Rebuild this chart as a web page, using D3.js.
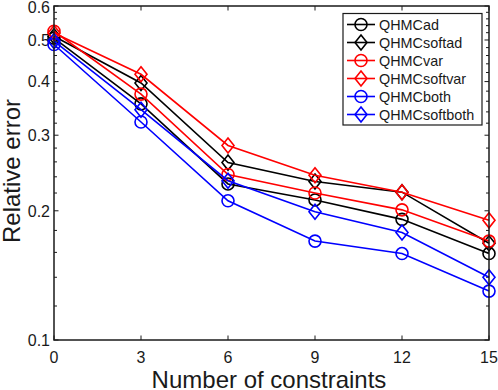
<!DOCTYPE html>
<html>
<head>
<meta charset="utf-8">
<script src="https://cdn.jsdelivr.net/npm/d3@7"></script>
<style>
  html, body { margin: 0; padding: 0; background: #fff; }
  svg { display: block; font-family: "Liberation Sans", Arial, Helvetica, sans-serif; }
</style>
</head>
<body>
<svg id="chart" width="498" height="390"></svg>
<script>
const xValues = [0, 3, 6, 9, 12, 15];
const xTicks = [0, 3, 6, 9, 12, 15];
const yTicks = [0.1, 0.2, 0.3, 0.4, 0.5, 0.6];
const yTickLabels = ["0.1", "0.2", "0.3", "0.4", "0.5", "0.6"];
const yMinorTicks = [0.12, 0.14, 0.16, 0.18, 0.22, 0.24, 0.26, 0.28, 0.32, 0.34, 0.36, 0.38,
                     0.42, 0.44, 0.46, 0.48, 0.52, 0.54, 0.56, 0.58];

const seriesNames = ["QHMCad", "QHMCsoftad", "QHMCvar", "QHMCsoftvar", "QHMCboth", "QHMCsoftboth"];
const seriesColors = ["#000000", "#000000", "#ff0000", "#ff0000", "#0000ff", "#0000ff"];
const seriesMarkers = ["circle", "diamond", "circle", "diamond", "circle", "diamond"];

const QHMCad       = [0.505, 0.355, 0.231, 0.212, 0.191, 0.159];
const QHMCsoftad   = [0.510, 0.397, 0.259, 0.234, 0.221, 0.168];
const QHMCvar      = [0.524, 0.374, 0.243, 0.220, 0.201, 0.170];
const QHMCsoftvar  = [0.519, 0.416, 0.284, 0.242, 0.221, 0.190];
const QHMCboth     = [0.488, 0.322, 0.211, 0.170, 0.159, 0.130];
const QHMCsoftboth = [0.497, 0.344, 0.235, 0.199, 0.178, 0.140];
const seriesValues = [QHMCad, QHMCsoftad, QHMCvar, QHMCsoftvar, QHMCboth, QHMCsoftboth];

const svg = d3.select("#chart");
const L = 54, R = 489, T = 6, B = 340;
const axisColor = "#1a1a1a";

const x = d3.scaleLinear().domain([0, 15]).range([L, R]);
const y = d3.scaleLog().domain([0.1, 0.6]).range([B, T]);

const tickLen = 4.5;
const g = svg.append("g");

function drawYTicks(vals, len) {
  vals.forEach(v => {
    g.append("line").attr("x1", L).attr("x2", L + len).attr("y1", y(v)).attr("y2", y(v))
      .attr("stroke", axisColor).attr("stroke-width", 1);
    g.append("line").attr("x1", R).attr("x2", R - len).attr("y1", y(v)).attr("y2", y(v))
      .attr("stroke", axisColor).attr("stroke-width", 1);
  });
}
drawYTicks(yTicks, tickLen);
drawYTicks(yMinorTicks, 3);
xTicks.forEach(v => {
  g.append("line").attr("x1", x(v)).attr("x2", x(v)).attr("y1", B).attr("y2", B - tickLen)
    .attr("stroke", axisColor).attr("stroke-width", 1);
  g.append("line").attr("x1", x(v)).attr("x2", x(v)).attr("y1", T).attr("y2", T + tickLen)
    .attr("stroke", axisColor).attr("stroke-width", 1);
});

xTicks.forEach(v => {
  g.append("text").attr("x", x(v)).attr("y", 363).attr("text-anchor", "middle")
    .attr("font-size", 16).attr("fill", axisColor).text(String(v));
});
yTicks.forEach((v, i) => {
  g.append("text").attr("x", 50).attr("y", Math.max(y(v), 7)).attr("dy", "0.36em").attr("text-anchor", "end")
    .attr("font-size", 16).attr("fill", axisColor).text(yTickLabels[i]);
});

svg.append("text").attr("x", 269).attr("y", 387.5).attr("text-anchor", "middle")
  .attr("font-size", 24).attr("fill", axisColor).text("Number of constraints");
svg.append("text").attr("transform", "translate(19.5,171) rotate(-90)").attr("text-anchor", "middle")
  .attr("font-size", 24).attr("fill", axisColor).text("Relative error");

const line = d3.line().x(d => x(d[0])).y(d => y(d[1]));
function marker(sel, type, cx, cy, color) {
  if (type === "circle") {
    sel.append("circle").attr("cx", cx).attr("cy", cy).attr("r", 6)
      .attr("fill", "none").attr("stroke", color).attr("stroke-width", 1.6);
  } else {
    const s = 7.5, w = 6;
    sel.append("path").attr("d", `M${cx},${cy - s}L${cx + w},${cy}L${cx},${cy + s}L${cx - w},${cy}Z`)
      .attr("fill", "none").attr("stroke", color).attr("stroke-width", 1.6);
  }
}
seriesValues.forEach((vals, i) => {
  const pts = xValues.map((xv, j) => [xv, vals[j]]);
  const sg = svg.append("g");
  sg.append("path").attr("d", line(pts)).attr("fill", "none")
    .attr("stroke", seriesColors[i]).attr("stroke-width", 1.6);
  pts.forEach(p => marker(sg, seriesMarkers[i], x(p[0]), y(p[1]), seriesColors[i]));
});

svg.append("rect").attr("x", L).attr("y", T).attr("width", R - L).attr("height", B - T)
  .attr("fill", "none").attr("stroke", axisColor).attr("stroke-width", 1.5);

const lg = svg.append("g");
const lx = 343, ly = 13.5, lw = 139, lh = 111.5;
lg.append("rect").attr("x", lx).attr("y", ly).attr("width", lw).attr("height", lh)
  .attr("fill", "#fff").attr("stroke", axisColor).attr("stroke-width", 1.2);
seriesNames.forEach((name, i) => {
  const yy = 24.5 + i * 18;
  lg.append("line").attr("x1", 347).attr("x2", 375).attr("y1", yy).attr("y2", yy)
    .attr("stroke", seriesColors[i]).attr("stroke-width", 1.6);
  marker(lg, seriesMarkers[i], 361, yy, seriesColors[i]);
  lg.append("text").attr("x", 379).attr("y", yy).attr("dy", "0.36em")
    .attr("font-size", 14.4).attr("fill", axisColor).text(name);
});
</script>
</body>
</html>
